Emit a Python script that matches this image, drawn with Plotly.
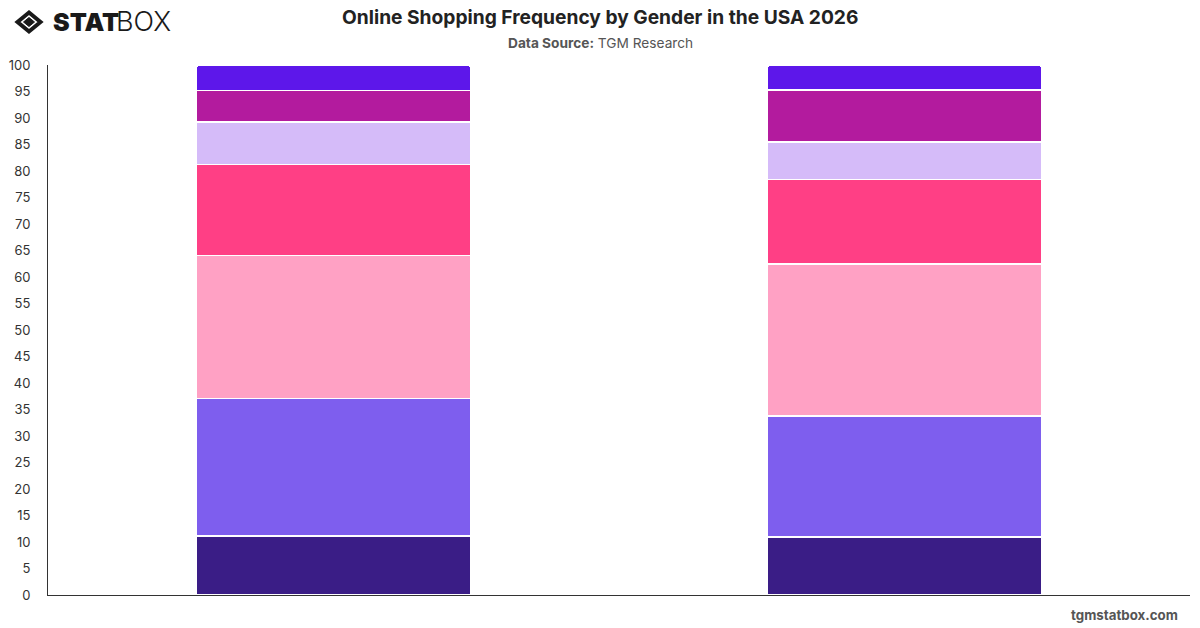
import plotly.graph_objects as go

# ---- data ----
genders = ["Male", "Female"]
series_names = ["Daily", "Weekly", "Several times a month", "Once a month",
                "Every few months", "Rarely", "Never"]
daily = [11.1, 10.9]
weekly = [26.0, 22.9]
several_month = [27.0, 28.7]
once_month = [17.1, 15.9]
few_months = [8.0, 7.1]
rarely = [6.0, 9.8]
never = [4.8, 4.7]
y_ticks = list(range(0, 101, 5))

colors = ["#3A1D86", "#7E5EEE", "#FFA1C4", "#FF3F85", "#D5BBF9", "#B31B9E", "#5D17EA"]
all_series = [daily, weekly, several_month, once_month, few_months, rarely, never]

W, H = 1200, 628
ML, MR, MT, MB = 48, 10, 65, 33

fig = go.Figure()
for name, vals, col in zip(series_names, all_series, colors):
    fig.add_trace(go.Bar(
        x=genders, y=vals, name=name,
        marker=dict(color=col, line=dict(color="#FFFFFF", width=1.5)),
        hovertemplate="%{x}<br>" + name + ": %{y}%<extra></extra>",
    ))

fig.update_layout(
    width=W, height=H,
    barmode="stack",
    bargap=0.52,
    barcornerradius=3,
    showlegend=False,
    plot_bgcolor="#FFFFFF",
    paper_bgcolor="#FFFFFF",
    margin=dict(l=ML, r=MR, t=MT, b=MB),
    font=dict(family="Inter, Roboto, sans-serif", color="#333333"),
    xaxis=dict(showticklabels=False, showgrid=False, zeroline=False,
               showline=True, linecolor="#333333", linewidth=1, ticks=""),
    yaxis=dict(range=[0, 100], tickvals=y_ticks, showgrid=False, zeroline=False,
               showline=True, linecolor="#333333", linewidth=1, ticks="",
               ticklabelstandoff=14, tickfont=dict(size=13, color="#333333")),
)

pw = W - ML - MR
ph = H - MT - MB

def px(x):
    return (x - ML) / pw

def py(y):
    return (H - MB - y) / ph

# Title & subtitle
fig.add_annotation(text="<b>Online Shopping Frequency by Gender in the USA 2026</b>",
                   x=px(600), y=py(17), xref="paper", yref="paper",
                   xanchor="center", yanchor="middle", showarrow=False,
                   font=dict(size=19.2, color="#222222"))
fig.add_annotation(text="<b>Data Source:</b> TGM Research",
                   x=px(600), y=py(43), xref="paper", yref="paper",
                   xanchor="center", yanchor="middle", showarrow=False,
                   font=dict(size=13.7, color="#555555"))
# Watermark
fig.add_annotation(text="<b>tgmstatbox.com</b>",
                   x=px(1180), y=py(615), xref="paper", yref="paper",
                   xanchor="right", yanchor="middle", showarrow=False,
                   font=dict(size=13.3, color="#555555"))

# Logo
cx, cy = 29, 22
def diamond(cx, cy, hw, hh):
    pts = [(cx, cy - hh), (cx + hw, cy), (cx, cy + hh), (cx - hw, cy)]
    return "M " + " L ".join(f"{px(a):.5f},{py(b):.5f}" for a, b in pts) + " Z"

fig.add_shape(type="path", path=diamond(cx, cy, 11.5, 9.5), xref="paper", yref="paper",
              line=dict(color="#1A1A1A", width=4), fillcolor="rgba(0,0,0,0)", layer="above")
fig.add_shape(type="path", path=diamond(cx, cy, 5.5, 4.5), xref="paper", yref="paper",
              line=dict(color="#1A1A1A", width=1), fillcolor="#1A1A1A", layer="above")
fig.add_annotation(text="STAT", x=px(51), y=py(22), xref="paper", yref="paper",
                   xanchor="left", yanchor="middle", showarrow=False,
                   font=dict(size=25, color="#1A1A1A", family="Inter", weight=900))
fig.add_annotation(text="BOX", x=px(114), y=py(22), xref="paper", yref="paper",
                   xanchor="left", yanchor="middle", showarrow=False,
                   font=dict(size=27, color="#1A1A1A", family="Inter", weight=300))

fig.write_html("out.html")
